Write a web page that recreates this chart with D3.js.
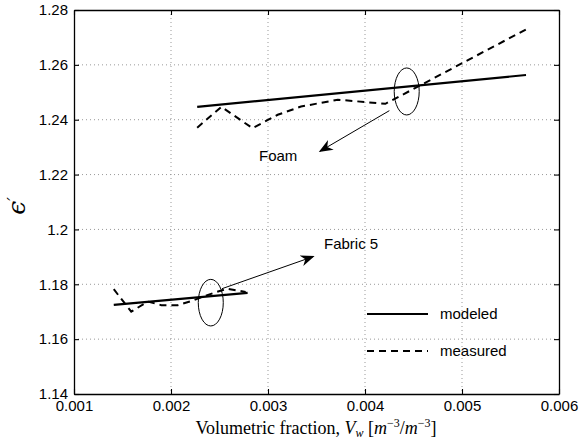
<!DOCTYPE html>
<html>
<head>
<meta charset="utf-8">
<script src="https://cdn.jsdelivr.net/npm/d3@7"></script>
<style>
  html, body { margin: 0; padding: 0; background: #fff; }
  svg { display: block; }
  text { fill: #000; }
</style>
</head>
<body>
<svg id="chart" width="588" height="447"></svg>
<script>
// ---- data ----
const xTicks = [0.001, 0.002, 0.003, 0.004, 0.005, 0.006];
const yTicks = [1.14, 1.16, 1.18, 1.2, 1.22, 1.24, 1.26, 1.28];

const foamModeledX = [0.00227, 0.00566];
const foamModeledY = [1.2447, 1.2563];
const foamMeasuredX = [0.00227, 0.00252, 0.00284, 0.00310, 0.00334, 0.00372, 0.00421, 0.00568];
const foamMeasuredY = [1.2371, 1.2447, 1.2369, 1.2418, 1.2448, 1.2473, 1.2458, 1.2733];

const fabricModeledX = [0.00141, 0.00279];
const fabricModeledY = [1.1725, 1.1769];
const fabricMeasuredX = [0.00141, 0.00159, 0.00176, 0.00190, 0.00207, 0.00221, 0.00245, 0.00258, 0.00277];
const fabricMeasuredY = [1.1782, 1.1700, 1.1737, 1.1724, 1.1724, 1.1739, 1.1770, 1.1784, 1.1772];

const legendLabels = ["modeled", "measured"];

// ---- layout ----
const SANS = '"Liberation Sans", Arial, Helvetica, sans-serif';
const SERIF = '"DejaVu Serif", "Liberation Serif", "Times New Roman", serif';
const svg = d3.select("#chart");
const L = 74, R = 559, T = 10, B = 394;
const x = d3.scaleLinear().domain([0.001, 0.006]).range([L, R]);
const y = d3.scaleLinear().domain([1.14, 1.28]).range([B, T]);

svg.append("defs").append("marker")
  .attr("id", "arrow").attr("viewBox", "0 0 10 10")
  .attr("refX", 9).attr("refY", 5)
  .attr("markerWidth", 14).attr("markerHeight", 14)
  .attr("markerUnits", "userSpaceOnUse")
  .attr("orient", "auto")
  .append("path").attr("d", "M0,1 L10,5 L0,9 L3,5 Z").attr("fill", "#000");

// grid
const grid = svg.append("g");
grid.selectAll(".gx").data(xTicks.slice(1, -1)).join("line")
  .attr("x1", d => x(d)).attr("x2", d => x(d)).attr("y1", T).attr("y2", B)
  .attr("stroke", "#999").attr("stroke-width", 1).attr("stroke-dasharray", "1,3");
grid.selectAll(".gy").data(yTicks.slice(1, -1)).join("line")
  .attr("y1", d => y(d)).attr("y2", d => y(d)).attr("x1", L).attr("x2", R)
  .attr("stroke", "#999").attr("stroke-width", 1).attr("stroke-dasharray", "1,3");

// axes
const fmtX = d => d3.format(".3f")(d);
const fmtY = d => String(+d.toFixed(2));
const axB = svg.append("g").attr("transform", `translate(0,${B})`)
  .call(d3.axisBottom(x).tickValues(xTicks).tickFormat(fmtX).tickSizeInner(-5).tickSizeOuter(0).tickPadding(6));
const axT = svg.append("g").attr("transform", `translate(0,${T})`)
  .call(d3.axisTop(x).tickValues(xTicks).tickFormat("").tickSizeInner(-5).tickSizeOuter(0));
const axL = svg.append("g").attr("transform", `translate(${L},0)`)
  .call(d3.axisLeft(y).tickValues(yTicks).tickFormat(fmtY).tickSizeInner(-5).tickSizeOuter(0).tickPadding(6));
const axR = svg.append("g").attr("transform", `translate(${R},0)`)
  .call(d3.axisRight(y).tickValues(yTicks).tickFormat("").tickSizeInner(-5).tickSizeOuter(0));
[axB, axT, axL, axR].forEach(a => {
  a.select(".domain").attr("stroke", "#000").attr("stroke-width", 1.3);
  a.selectAll(".tick line").attr("stroke", "#000").attr("stroke-width", 1.1);
  a.selectAll(".tick text").attr("font-size", 15)
    .style("font-family", SANS).attr("fill", "#000");
});
axB.selectAll(".tick text").attr("dy", "0.75em");

// lines
const line = d3.line().x(d => x(d[0])).y(d => y(d[1]));
const zip = (a, b) => a.map((v, i) => [v, b[i]]);
const plot = svg.append("g").attr("fill", "none").attr("stroke", "#000");
plot.append("path").attr("d", line(zip(foamModeledX, foamModeledY))).attr("stroke-width", 2.2);
plot.append("path").attr("d", line(zip(foamMeasuredX, foamMeasuredY))).attr("stroke-width", 2).attr("stroke-dasharray", "7,5");
plot.append("path").attr("d", line(zip(fabricModeledX, fabricModeledY))).attr("stroke-width", 2.2);
plot.append("path").attr("d", line(zip(fabricMeasuredX, fabricMeasuredY))).attr("stroke-width", 2).attr("stroke-dasharray", "7,5");

// annotations
const ann = svg.append("g").attr("fill", "none").attr("stroke", "#000");
ann.append("ellipse").attr("cx", x(0.00443)).attr("cy", y(1.2503)).attr("rx", 12.5).attr("ry", 23.5).attr("stroke-width", 1);
ann.append("ellipse").attr("cx", x(0.00241)).attr("cy", y(1.1733)).attr("rx", 12.5).attr("ry", 23.3).attr("stroke-width", 1);
ann.append("line").attr("x1", x(0.004251)).attr("y1", y(1.2433)).attr("x2", x(0.003536)).attr("y2", y(1.2285))
  .attr("stroke-width", 1).attr("marker-end", "url(#arrow)");
ann.append("line").attr("x1", x(0.002526)).attr("y1", y(1.1784)).attr("x2", x(0.003467)).attr("y2", y(1.1901))
  .attr("stroke-width", 1).attr("marker-end", "url(#arrow)");

svg.append("text").attr("x", x(0.002907)).attr("y", y(1.2251)).attr("font-size", 15).style("font-family", SANS).text("Foam");
svg.append("text").attr("x", x(0.003577)).attr("y", y(1.1927)).attr("font-size", 15).style("font-family", SANS).text("Fabric 5");

// legend
const leg = svg.append("g");
leg.append("line").attr("x1", 367).attr("x2", 428).attr("y1", 314).attr("y2", 314).attr("stroke", "#000").attr("stroke-width", 2.2);
leg.append("line").attr("x1", 367).attr("x2", 428).attr("y1", 351).attr("y2", 351).attr("stroke", "#000").attr("stroke-width", 2).attr("stroke-dasharray", "7,5");
leg.selectAll("text.lg").data(legendLabels).join("text")
  .attr("x", 440).attr("y", (d, i) => 319 + i * 37).attr("font-size", 15).style("font-family", SANS).text(d => d);

// axis labels
const xl = svg.append("text").attr("x", 316).attr("y", 434).attr("text-anchor", "middle")
  .style("font-family", '"Liberation Serif", "Times New Roman", serif').attr("font-size", 18);
xl.append("tspan").text("Volumetric fraction, ");
xl.append("tspan").attr("font-style", "italic").text("V");
xl.append("tspan").attr("font-style", "italic").attr("font-size", 12).attr("dy", 3).text("w");
xl.append("tspan").attr("dy", -3).text(" [");
xl.append("tspan").attr("font-style", "italic").text("m");
xl.append("tspan").attr("font-size", 12).attr("dy", -7).text("−3");
xl.append("tspan").attr("dy", 7).text("/");
xl.append("tspan").attr("font-style", "italic").text("m");
xl.append("tspan").attr("font-size", 12).attr("dy", -7).text("−3");
xl.append("tspan").attr("dy", 7).text("]");

const yl = svg.append("text").attr("transform", "translate(25,206) rotate(-90)").attr("text-anchor", "middle")
  .style("font-family", SERIF).attr("font-style", "italic").attr("font-size", 25);
yl.append("tspan").text("ϵ");
yl.append("tspan").attr("dy", -6).attr("font-size", 16).text("′");
</script>
</body>
</html>
